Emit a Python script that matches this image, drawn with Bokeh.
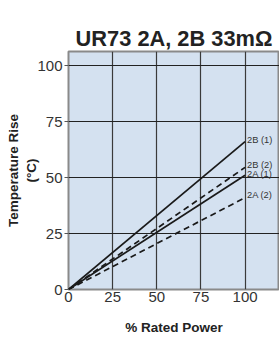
from bokeh.plotting import figure
from bokeh.models import Range1d, FixedTicker, ColumnDataSource
from bokeh.core.properties import value
from bokeh.embed import file_html
from bokeh.resources import INLINE

power = [0, 100]
s_2b1 = [0, 66]
s_2b2 = [0, 54.5]
s_2a1 = [0, 51]
s_2a2 = [0, 41]
names = ["2B (1)", "2B (2)", "2A (1)", "2A (2)"]
label_y = [66.8, 55.5, 51.5, 42]
ticks = [0, 25, 50, 75, 100]

p = figure(width=279, height=341, output_backend="svg", toolbar_location=None,
           x_range=Range1d(0, 119.5), y_range=Range1d(0, 106.25),
           min_border_left=68, min_border_right=0, min_border_top=51, min_border_bottom=52)
p.background_fill_color = "#d4e1f0"
p.border_fill_color = "white"
p.outline_line_color = "#8a8a8a"
p.outline_line_width = 2

p.title.text = "UR73 2A, 2B 33mΩ"
p.title.align = "center"
p.title.offset = 6
p.title.text_font = "Liberation Sans"
p.title.text_font_size = "21.8px"
p.title.text_font_style = "bold"
p.title.text_color = "#222222"
p.title.standoff = 2

for ax in (p.xaxis[0], p.yaxis[0]):
    ax.ticker = FixedTicker(ticks=ticks)
    ax.major_label_text_font = "Liberation Sans"
    ax.major_label_text_font_size = "15px"
    ax.major_label_text_color = "#333333"
    ax.axis_line_color = None
    ax.minor_tick_line_color = None
    ax.minor_tick_out = 0
    ax.minor_tick_in = 0
    ax.axis_label_text_font = "Liberation Sans"
    ax.axis_label_text_font_style = "bold"
    ax.axis_label_text_font_size = "13.5px"
    ax.axis_label_text_color = "#222222"

p.xaxis.major_tick_line_color = None
p.xaxis.major_tick_out = 0
p.xaxis.major_tick_in = 0
p.xaxis.major_label_standoff = 2
p.xaxis.axis_label = "% Rated Power"
p.xaxis.axis_label_standoff = 15
p.yaxis.major_tick_line_color = "#555555"
p.yaxis.major_tick_out = 4
p.yaxis.major_tick_in = 0
p.yaxis.major_label_standoff = 2
p.yaxis.axis_label = "Temperature Rise\n(°C)"
p.yaxis.axis_label_standoff = -5

p.xgrid.ticker = FixedTicker(ticks=[25, 50, 75, 100])
p.ygrid.ticker = FixedTicker(ticks=[25, 50, 75, 100])
p.xgrid.grid_line_color = "#3a3a3a"
p.ygrid.grid_line_color = "#222222"
p.grid.grid_line_width = 1.2

lc = "#1a1a1a"
p.line(power, s_2b1, line_color=lc, line_width=1.7)
p.line(power, s_2b2, line_color=lc, line_width=1.7, line_dash="6 4")
p.line(power, s_2a1, line_color=lc, line_width=1.7)
p.line(power, s_2a2, line_color=lc, line_width=1.7, line_dash="6 4")

src = ColumnDataSource(dict(x=[100] * 4, y=label_y, t=names))
p.text(x="x", y="y", text="t", source=src, x_offset=2, text_baseline="middle",
       text_font=value("Liberation Sans"), text_font_size="9.3px", text_color="#333333")

open("out.html", "w").write(file_html(p, INLINE))
